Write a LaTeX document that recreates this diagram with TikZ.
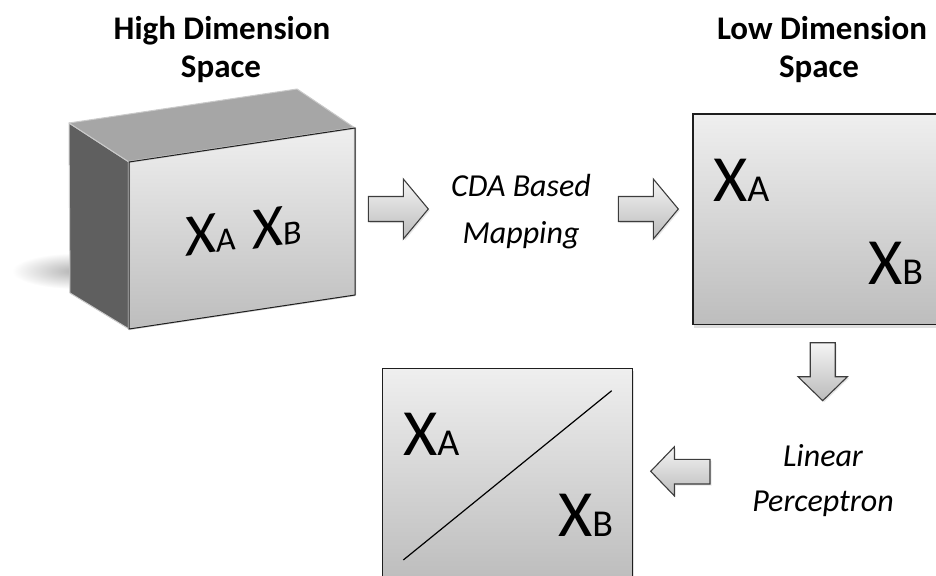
\documentclass[tikz,border=0pt]{standalone}
\usepackage{fontspec}
\setmainfont{Carlito}
\usetikzlibrary{shadows}

\definecolor{boxtop}{HTML}{EFEFEF}
\definecolor{boxbot}{HTML}{BDBDBD}
\definecolor{sidegray}{HTML}{5F5F5F}
\definecolor{topgray}{HTML}{A6A6A6}
\definecolor{edgelight}{HTML}{CACACA}
\definecolor{frameline}{HTML}{1E1E1E}
\definecolor{arrowline}{HTML}{3C3C3C}
\definecolor{arrowtop}{HTML}{F4F4F4}
\definecolor{arrowbot}{HTML}{BBBBBB}

% X with a smaller index letter on the same baseline
\newcommand{\bigsym}[1]{{\fontsize{66}{66}\selectfont X}{\fontsize{38}{38}\selectfont #1}}
\newcommand{\cubesym}[1]{{\fontsize{60}{60}\selectfont X}{\fontsize{34}{34}\selectfont #1}}

\begin{document}
\begin{tikzpicture}[x=1pt,y=-1pt,
  title/.style={font=\bfseries\fontsize{33}{38}\selectfont, inner sep=0pt, anchor=base},
  caption/.style={font=\itshape\fontsize{32}{38}\selectfont, inner sep=0pt, anchor=base},
  sym/.style={inner sep=0pt, anchor=base west},
  panel/.style={draw=frameline, line width=1.3pt, top color=boxtop, bottom color=boxbot,
    drop shadow={shadow xshift=1pt, shadow yshift=-3pt, opacity=0.25}},
  blockarrow/.style={draw=arrowline, line width=1.1pt, line join=miter,
    top color=arrowtop, bottom color=arrowbot,
    drop shadow={shadow xshift=1.5pt, shadow yshift=-1.5pt, opacity=0.2}}]

\clip (0,0) rectangle (936,575);

% ---- titles
\node[title] (hightitle) at (222,39.3) {High Dimension};
\node[title] (highspace) at (221,77.3) {Space};
\node[title] (lowtitle)  at (822,39.3) {Low Dimension};
\node[title] (lowspace)  at (819,77.3) {Space};

% ---- high dimension space: a box in perspective, with a soft ground shadow
\shade[inner color=black!30, outer color=white] (76,271) ellipse [x radius=64, y radius=18];
\fill[sidegray, draw=edgelight, line width=1pt, line join=round]
  (69,123) -- (129,162) -- (129,329) -- (70,293) -- cycle;
\fill[topgray, draw=edgelight, line width=1pt, line join=round]
  (69,123) -- (297,89) -- (355,128) -- (129,162) -- cycle;
\shade[top color=boxtop, bottom color=boxbot]
  (129,162) -- (355,128) -- (355,295) -- (129,329) -- cycle;
\draw[edgelight, line width=2.2pt, line join=round]
  (129,162) -- (355,128) -- (355,295) -- (129,329) -- cycle;
\draw[frameline, line width=1pt, line join=round]
  (129,162) -- (355,128) -- (355,295) -- (129,329) -- cycle;
\node[sym, yslant=0.15] (hxa) at (185,257) {\cubesym{A}};
\node[sym, yslant=0.15] (hxb) at (252,250) {\cubesym{B}};

% ---- mapping step
\path[blockarrow] (368.3,196.5) -- (403.3,196.5) -- (403.3,179) -- (428.3,209)
  -- (403.3,239) -- (403.3,221.5) -- (368.3,221.5) -- cycle;
\node[caption] (cda) at (521,196) {CDA Based};
\node[caption] (mapping) at (521,243) {Mapping};
\path[blockarrow] (618.3,196.5) -- (653.3,196.5) -- (653.3,179) -- (678.3,209)
  -- (653.3,239) -- (653.3,221.5) -- (618.3,221.5) -- cycle;

% ---- low dimension space
\path[panel] (693,114) rectangle (952,324.5);
\node[sym] (lxa) at (713,201.7) {\bigsym{A}};
\node[sym] (lxb) at (868,284) {\bigsym{B}};

% ---- perceptron step
\path[blockarrow] (810.2,342.7) -- (835.2,342.7) -- (835.2,376.7) -- (847.4,376.7)
  -- (822.7,400.7) -- (798,376.7) -- (810.2,376.7) -- cycle;
\node[caption] (linear) at (823,466) {Linear};
\node[caption] (perceptron) at (823,511) {Perceptron};
\path[blockarrow] (710,459.3) -- (674.3,459.3) -- (674.3,446.8) -- (650.7,471.3)
  -- (674.3,495.8) -- (674.3,484) -- (710,484) -- cycle;

% ---- separated classes
\path[panel] (382.7,368.3) rectangle (632.7,580);
\coordinate (sepa) at (403.3,560);
\coordinate (sepb) at (611.7,390.7);
\draw[black, line width=1.2pt] (sepa) -- (sepb);
\node[sym] (sxa) at (403,455) {\bigsym{A}};
\node[sym] (sxb) at (558,536.7) {\bigsym{B}};

\end{tikzpicture}
\end{document}
